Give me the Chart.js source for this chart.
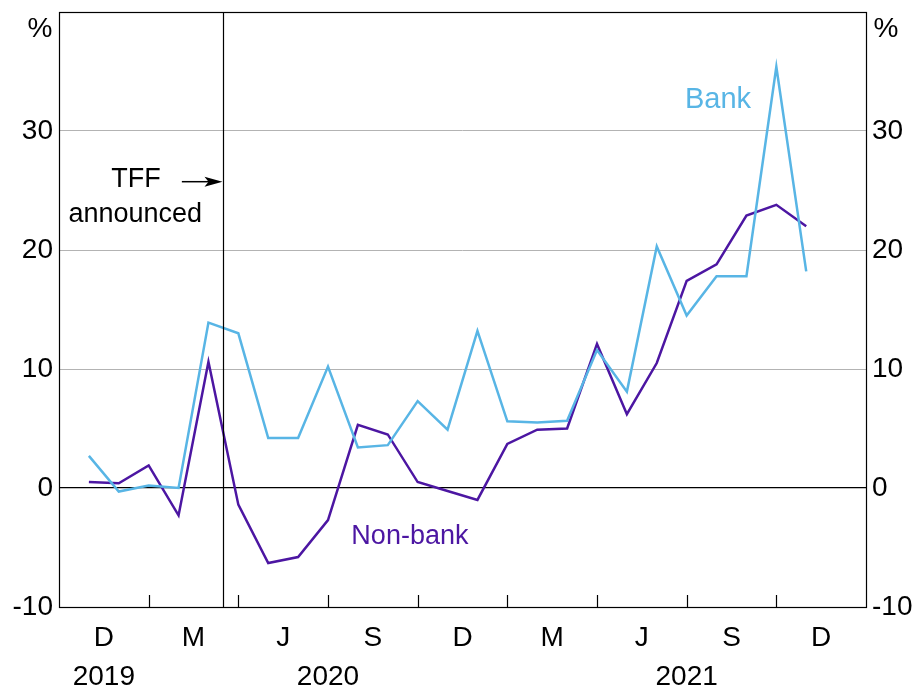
<!DOCTYPE html>
<html>
<head>
<meta charset="utf-8">
<script src="https://cdn.jsdelivr.net/npm/chart.js@4/dist/chart.umd.min.js"></script>
<style>
html,body{margin:0;padding:0;background:#fff;}
canvas{display:block;}
</style>
</head>
<body>
<canvas id="c" width="917" height="691"></canvas>
<script>
// Month index: 0 = start of Oct 2019 (end Sep 2019); points at month ends
const monthIndex = [1,2,3,4,5,6,7,8,9,10,11,12,13,14,15,16,17,18,19,20,21,22,23,24,25];
const bankValues = [2.7,-0.3,0.2,0.0,13.9,13.0,4.2,4.2,10.2,3.4,3.6,7.3,4.9,13.2,5.6,5.5,5.65,11.6,8.1,20.3,14.5,17.8,17.8,35.4,18.2];
const nonBankValues = [0.5,0.4,1.9,-2.3,10.6,-1.4,-6.3,-5.8,-2.7,5.3,4.5,0.5,-0.25,-1.0,3.7,4.9,5.0,12.1,6.2,10.5,17.4,18.8,22.9,23.8,22.0];
const quarterTicks = [3,6,9,12,15,18,21,24];
const quarterLabels = ['D','M','J','S','D','M','J','S','D'];
const quarterLabelPos = [1.5,4.5,7.5,10.5,13.5,16.5,19.5,22.5,25.5];
const yearLabels = ['2019','2020','2021'];
const yearLabelPos = [1.5,9,21];
const yTicks = [-10,0,10,20,30,40];
const tffAnnounced = 5.5;

const BANK = 'rgb(88,181,229)';
const NONBANK = 'rgb(76,22,162)';
const FONT = 'Liberation Sans, Arial, sans-serif';
const FS = 28;
const FA = 27;

const toXY = (xs, ys) => xs.map((x,i)=>({x, y: ys[i]}));

const overlay = {
  id: 'overlay',
  afterDatasetsDraw(chart) {
    const {ctx, chartArea: a, scales} = chart;
    const x = scales.x, y = scales.y;
    ctx.save();
    // TFF vertical line
    ctx.strokeStyle = '#000'; ctx.lineWidth = 1.2;
    const vx = Math.round(x.getPixelForValue(tffAnnounced)) + 0.5;
    ctx.beginPath(); ctx.moveTo(vx, a.top); ctx.lineTo(vx, a.bottom); ctx.stroke();
    // frame
    ctx.lineWidth = 1.2;
    ctx.strokeRect(Math.round(a.left)+0.5, Math.round(a.top)+0.5, Math.round(a.right - a.left), Math.round(a.bottom - a.top));
    // x tick marks (inward)
    quarterTicks.forEach(t => {
      const px = Math.round(x.getPixelForValue(t)) + 0.5;
      ctx.beginPath(); ctx.moveTo(px, a.bottom); ctx.lineTo(px, a.bottom - 12); ctx.stroke();
    });
    // x labels
    ctx.fillStyle = '#000';
    ctx.font = FS + 'px ' + FONT;
    ctx.textAlign = 'center'; ctx.textBaseline = 'middle';
    quarterLabels.forEach((l,i) => ctx.fillText(l, x.getPixelForValue(quarterLabelPos[i]), a.bottom + 31));
    yearLabels.forEach((l,i) => ctx.fillText(l, x.getPixelForValue(yearLabelPos[i]), a.bottom + 70));
    // % units
    ctx.fillText('%', a.left - 19, a.top + 17);
    ctx.fillText('%', a.right + 20, a.top + 17);
    // annotations
    ctx.font = FA + 'px ' + FONT;
    ctx.fillText('TFF', x.getPixelForValue(2.58), y.getPixelForValue(25.9));
    ctx.fillText('announced', x.getPixelForValue(2.55), y.getPixelForValue(23.0));
    // arrow
    const ay = y.getPixelForValue(25.74);
    const ax0 = x.getPixelForValue(4.11), ax1 = vx - 1;
    ctx.lineWidth = 1.5;
    ctx.beginPath(); ctx.moveTo(ax0, ay); ctx.lineTo(ax1 - 12, ay); ctx.stroke();
    ctx.beginPath(); ctx.moveTo(ax1, ay); ctx.lineTo(ax1 - 18, ay - 5); ctx.lineTo(ax1 - 14, ay); ctx.lineTo(ax1 - 18, ay + 5); ctx.closePath(); ctx.fill();
    ctx.font = '29px ' + FONT;
    ctx.fillStyle = BANK;
    ctx.fillText('Bank', x.getPixelForValue(22.05), y.getPixelForValue(32.6));
    ctx.font = FA + 'px ' + FONT;
    ctx.fillStyle = NONBANK;
    ctx.fillText('Non-bank', x.getPixelForValue(11.74), y.getPixelForValue(-4.05));
    ctx.restore();
  }
};

new Chart(document.getElementById('c'), {
  type: 'line',
  data: {
    datasets: [
      {label: 'Bank', data: toXY(monthIndex, bankValues), borderColor: BANK, borderWidth: 2.5, pointRadius: 0, tension: 0, fill: false},
      {label: 'Non-bank', data: toXY(monthIndex, nonBankValues), borderColor: NONBANK, borderWidth: 2.5, pointRadius: 0, tension: 0, fill: false}
    ]
  },
  options: {
    responsive: false,
    animation: false,
    events: [],
    layout: {padding: {top: 0, bottom: 84, left: 0, right: 0}},
    plugins: {legend: {display: false}, tooltip: {enabled: false}},
    scales: {
      x: {type: 'linear', min: 0, max: 27, display: false},
      y: {
        position: 'left', min: -10, max: 40,
        afterBuildTicks: s => { s.ticks = yTicks.map(v => ({value: v})); },
        afterFit: s => { s.width = 59; s.paddingTop = 12; },
        ticks: {callback: v => v === 40 ? '' : v, font: {size: FS, family: FONT}, color: '#000', padding: 6},
        grid: {drawTicks: false, color: c => c.tick.value === 0 ? '#000' : '#b3b3b3', lineWidth: c => c.tick.value === 0 ? 1.2 : 1},
        border: {display: false}
      },
      y2: {
        position: 'right', min: -10, max: 40,
        afterBuildTicks: s => { s.ticks = yTicks.map(v => ({value: v})); },
        afterFit: s => { s.width = 51; s.paddingTop = 12; },
        ticks: {callback: v => v === 40 ? '' : v, font: {size: FS, family: FONT}, color: '#000', padding: 6},
        grid: {display: false, drawTicks: false},
        border: {display: false}
      }
    }
  },
  plugins: [overlay]
});
</script>
</body>
</html>
